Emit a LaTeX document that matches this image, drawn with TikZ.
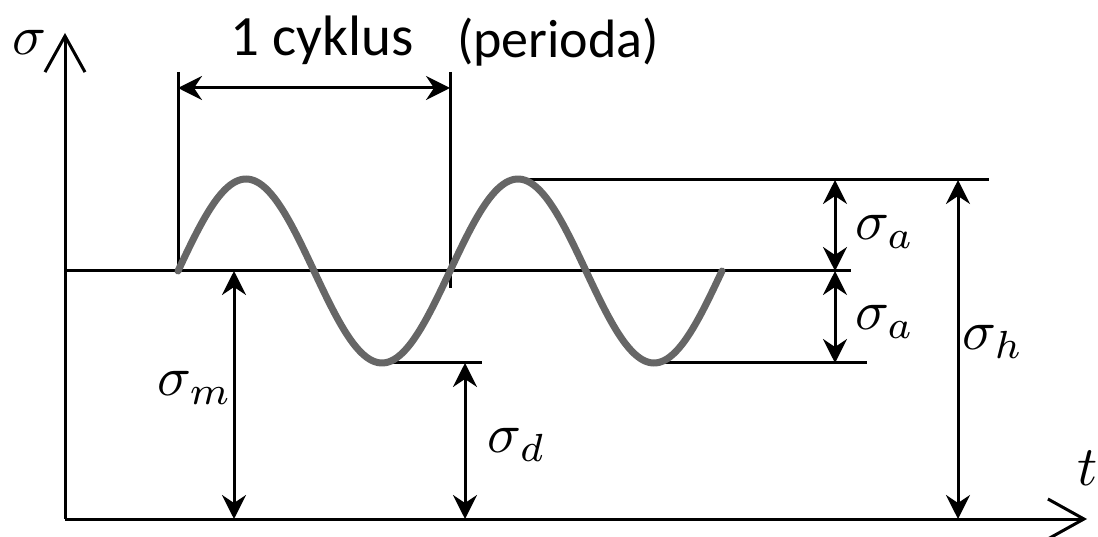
\documentclass[tikz,border=0pt]{standalone}
\usepackage{graphicx}
\usepackage{fontspec}
\newfontfamily\carlitofont{Carlito}
\usetikzlibrary{arrows.meta}
\newcommand{\mylabelmath}[1]{\scalebox{5.6}{$#1$}}
\begin{document}
\begin{tikzpicture}[x=1pt,y=-1pt,
  ln/.style={line width=3pt,black},
  dim/.style={ln,{Stealth[length=24pt,width=24pt,inset=8pt]}-{Stealth[length=24pt,width=24pt,inset=8pt]}},
  axis/.style={ln,-{Straight Barb[length=36pt,width=40pt,line width=3pt]}},
  lbl/.style={inner sep=0pt},
  txt/.style={inner sep=0pt,font=\carlitofont\fontsize{54}{60}\selectfont}]
\useasboundingbox (0,0) rectangle (1098,537);
% coordinates
\coordinate (O) at (65,519);
\coordinate (ytop) at (65,33);
\coordinate (xend) at (1087,519);
\coordinate (mL) at (65,271);
\coordinate (mR) at (851,271);
\coordinate (tL) at (520,180);
\coordinate (tR) at (989,180);
\coordinate (d1L) at (387,363);
\coordinate (d1R) at (482,363);
\coordinate (d2L) at (650,363);
\coordinate (d2R) at (867,363);
\coordinate (v1t) at (178,72);
\coordinate (v1b) at (178,271);
\coordinate (v2t) at (450,72);
\coordinate (v2b) at (450,288);
\coordinate (c1) at (178,88);
\coordinate (c2) at (450,88);
\coordinate (a1t) at (835,180);
\coordinate (a1m) at (835,271);
\coordinate (a1b) at (835,363);
\coordinate (ht) at (958,180);
\coordinate (hb) at (958,519);
\coordinate (mt) at (234,271);
\coordinate (mb) at (234,519);
\coordinate (dt) at (465,363);
\coordinate (db) at (465,519);
% axes
\draw[axis] (O) -- (ytop);
\draw[axis] (O) -- (xend);
% reference lines
\draw[ln] (mL) -- (mR);
\draw[ln] (tL) -- (tR);
\draw[ln] (d1L) -- (d1R);
\draw[ln] (d2L) -- (d2R);
\draw[ln] (v1t) -- (v1b);
\draw[ln] (v2t) -- (v2b);
% sine
\draw[line width=7pt,color=black!60,line cap=round,domain=0:544,samples=200,smooth]
  plot ({178+\x},{271-92*sin(\x/272*360)});
% dimension arrows
\draw[dim] (c1) -- (c2);
\draw[dim] (a1t) -- (a1m);
\draw[dim] (a1m) -- (a1b);
\draw[dim] (ht) -- (hb);
\draw[dim] (mt) -- (mb);
\draw[dim] (dt) -- (db);
% labels
\node[lbl] (ls) at (30,42) {\mylabelmath{\sigma}};
\node[lbl] (lt) at (1088,468) {\mylabelmath{t}};
\node[txt,font=\carlitofont\fontsize{57}{62}\selectfont] (lc) at (322,40) {1 cyklus};
\node[txt] (lp) at (558,42) {(perioda)};
\node[lbl] (la1) at (885,232) {\mylabelmath{\sigma_a}};
\node[lbl] (la2) at (885,322) {\mylabelmath{\sigma_a}};
\node[lbl] (lh) at (993,342) {\mylabelmath{\sigma_h}};
\node[lbl] (lm) at (195,388) {\mylabelmath{\sigma_m}};
\node[lbl] (ld) at (517,445) {\mylabelmath{\sigma_d}};
\end{tikzpicture}
\end{document}
